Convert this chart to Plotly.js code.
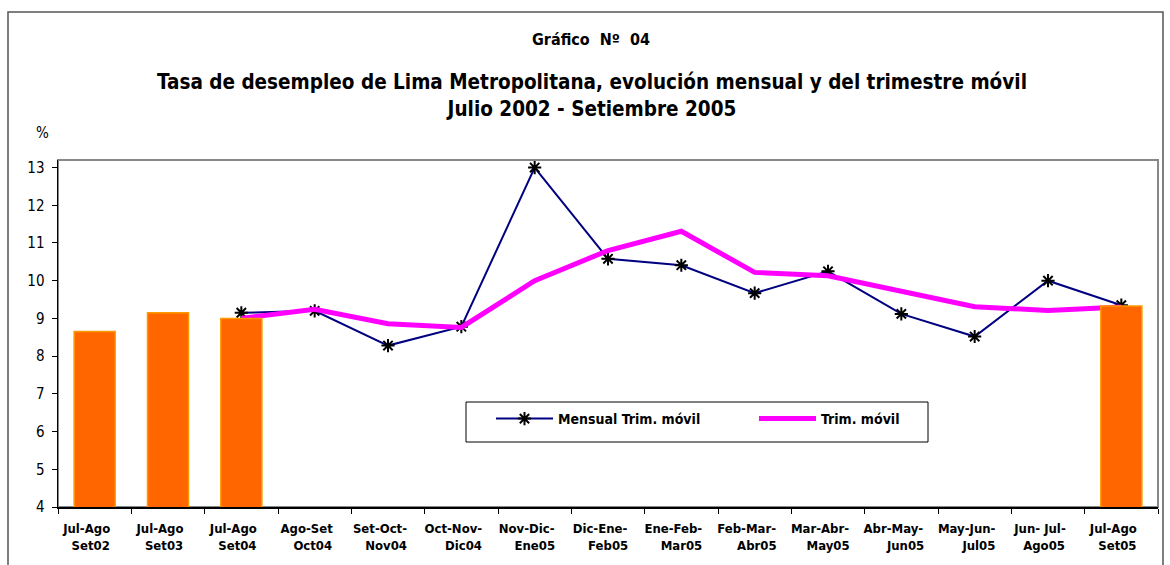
<!DOCTYPE html>
<html>
<head>
<meta charset="utf-8">
<script src="https://cdn.plot.ly/plotly-3.0.1.min.js"></script>
<style>
  html, body { margin: 0; padding: 0; background: #fff; }
  #chart { width: 1170px; height: 565px; }
</style>
</head>
<body>
<div id="chart"></div>
<script>
// ---- data ----
const categories = [
  "Jul-Ago Set02", "Jul-Ago Set03", "Jul-Ago Set04", "Ago-Set Oct04",
  "Set-Oct-Nov04", "Oct-Nov-Dic04", "Nov-Dic-Ene05", "Dic-Ene-Feb05",
  "Ene-Feb-Mar05", "Feb-Mar-Abr05", "Mar-Abr-May05", "Abr-May-Jun05",
  "May-Jun-Jul05", "Jun-Jul-Ago05", "Jul-Ago Set05"
];
const tickTop = [
  "Jul-Ago", "Jul-Ago", "Jul-Ago", "Ago-Set", "Set-Oct-", "Oct-Nov-", "Nov-Dic-",
  "Dic-Ene-", "Ene-Feb-", "Feb-Mar-", "Mar-Abr-", "Abr-May-", "May-Jun-", "Jun- Jul-", "Jul-Ago"
];
const tickBottom = [
  "Set02", "Set03", "Set04", "Oct04", "Nov04", "Dic04", "Ene05",
  "Feb05", "Mar05", "Abr05", "May05", "Jun05", "Jul05", "Ago05", "Set05"
];
const yTicks = [4, 5, 6, 7, 8, 9, 10, 11, 12, 13];
// Julio-Setiembre bars (annual comparison)
const barValues = [8.65, 9.15, 9.0, null, null, null, null, null, null, null, null, null, null, null, 9.33];
// Mensual Trim. móvil
const mensual = [null, null, 9.15, 9.2, 8.28, 8.78, 13.0, 10.58, 10.41, 9.67, 10.25, 9.12, 8.52, 10.0, 9.35];
// Trim. móvil
const trimMovil = [null, null, 9.0, 9.24, 8.86, 8.76, 10.0, 10.8, 11.31, 10.22, 10.13, 9.72, 9.31, 9.21, 9.3];

// ---- styling helpers ----
const FONT = "'DejaVu Sans Condensed', 'Liberation Sans Narrow', 'Arial Narrow', sans-serif";
const TICKSIZE = 13;

// right-align the two lines of each tick label with non-breaking spaces
const ctx = document.createElement("canvas").getContext("2d");
ctx.font = "bold " + TICKSIZE + "px " + FONT;
const nbspW = ctx.measureText("\u00a0").width || 4;
const tickText = tickTop.map((t, i) => {
  const b = tickBottom[i];
  const wt = ctx.measureText(t).width, wb = ctx.measureText(b).width;
  if (wt >= wb) {
    const n = Math.round((wt - wb) / nbspW);
    return t + "<br>" + "\u00a0".repeat(n) + b;
  } else {
    const n = Math.round((wb - wt) / nbspW);
    return "\u00a0".repeat(n) + t + "<br>" + b;
  }
});

const traces = [
  {
    type: "scatter", mode: "lines+markers", name: "Mensual Trim. móvil",
    x: categories, y: mensual, xaxis: "x", yaxis: "y",
    line: { color: "#000080", width: 2 },
    marker: { symbol: "asterisk-open", size: 11, color: "#000000", line: { color: "#000000", width: 2 } },
    connectgaps: false
  },
  {
    type: "scatter", mode: "lines", name: "Trim. móvil",
    x: categories, y: trimMovil, xaxis: "x", yaxis: "y",
    line: { color: "#FF00FF", width: 5 },
    connectgaps: false
  },
  {
    type: "bar", name: "Jul-Ago-Set", showlegend: false,
    x: categories, y: barValues, xaxis: "x2", yaxis: "y2",
    width: 0.56,
    marker: { color: "#FF6600", line: { color: "#FF9900", width: 1.5 } }
  }
];

const plotL = 58, plotR = 1158, plotT = 160, plotB = 507;
const pw = plotR - plotL, ph = plotB - plotT;
const px = v => (v - plotL) / pw;
const py = v => (plotB - v) / ph;

const layout = {
  width: 1170, height: 565,
  margin: { l: plotL, r: 1170 - plotR, t: plotT, b: 565 - plotB, pad: 0 },
  paper_bgcolor: "#ffffff", plot_bgcolor: "#ffffff",
  font: { family: FONT, color: "#000000", size: 15 },
  showlegend: true,
  title: {
    text: "<b>Tasa de desempleo de Lima Metropolitana, evolución mensual y del trimestre móvil<br>Julio 2002 - Setiembre 2005</b>",
    font: { family: FONT, size: 20.5, color: "#000000" },
    xref: "container", x: 592 / 1170, xanchor: "center",
    yref: "container", y: 1 - 89 / 565, yanchor: "top"
  },
  xaxis: {
    type: "category", categoryorder: "array", categoryarray: categories,
    range: [-0.5, 14.5], fixedrange: true,
    tickmode: "array", tickvals: categories, ticktext: tickText, tickangle: 0,
    tickson: "boundaries", ticks: "outside", ticklen: 5, tickwidth: 1, tickcolor: "#000",
    tickfont: { family: FONT, size: TICKSIZE, color: "#000", weight: "bold" },
    ticklabelshift: -8, ticklabelstandoff: 9,
    showline: true, linecolor: "#000", linewidth: 1.5,
    showgrid: false, zeroline: false
  },
  yaxis: {
    range: [4, 13.2], fixedrange: true,
    tickmode: "array", tickvals: yTicks,
    ticks: "outside", ticklen: 5, tickwidth: 1, tickcolor: "#000",
    tickfont: { family: FONT, size: 15, color: "#000" },
    ticklabelstandoff: 4,
    showline: true, linecolor: "#000", linewidth: 1.5,
    showgrid: false, zeroline: false
  },
  xaxis2: {
    type: "category", categoryorder: "array", categoryarray: categories,
    overlaying: "x", range: [-0.5, 14.5], visible: false, fixedrange: true
  },
  yaxis2: {
    overlaying: "y", range: [4, 13.2], visible: false, fixedrange: true
  },
  legend: {
    orientation: "h",
    x: px(491), xanchor: "left", y: py(403), yanchor: "top",
    bgcolor: "rgba(0,0,0,0)", borderwidth: 0,
    font: { family: FONT, size: 14, color: "#000", weight: "bold" },
    entrywidth: 191, entrywidthmode: "pixels",
    itemwidth: 57, tracegroupgap: 0
  },
  shapes: [
    { type: "rect", xref: "paper", yref: "paper", x0: 0, x1: 1, y0: 0, y1: 1,
      line: { color: "#888888", width: 2 }, fillcolor: "rgba(0,0,0,0)", layer: "below" },
    { type: "rect", xref: "paper", yref: "paper", x0: px(8), x1: px(1163), y0: py(640), y1: py(12),
      line: { color: "#555555", width: 1.5 }, fillcolor: "rgba(0,0,0,0)", layer: "below" },
    { type: "rect", xref: "paper", yref: "paper", x0: px(466), x1: px(928), y0: py(442), y1: py(402),
      line: { color: "#000000", width: 1 }, fillcolor: "#ffffff", layer: "above" }
  ],
  annotations: [
    { xref: "paper", yref: "paper", x: px(591), y: py(40), xanchor: "center", yanchor: "middle",
      text: "<b>Gráfico\u00a0 Nº\u00a0 04</b>", showarrow: false, font: { family: FONT, size: 16, color: "#000" } },
    { xref: "paper", yref: "paper", x: px(42), y: py(133), xanchor: "center", yanchor: "middle",
      text: "%", showarrow: false, font: { family: FONT, size: 15, color: "#000" } }
  ]
};

Plotly.newPlot("chart", traces, layout, { displayModeBar: false, staticPlot: true });
</script>
</body>
</html>
